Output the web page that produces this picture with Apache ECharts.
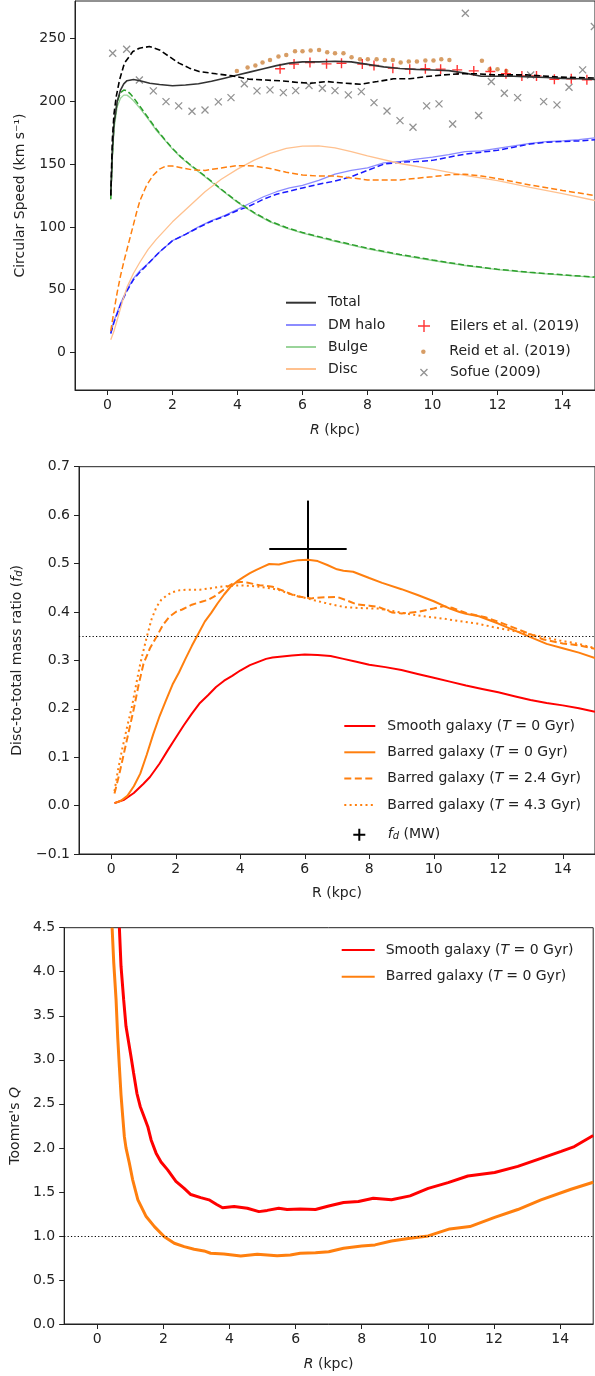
<!DOCTYPE html>
<html><head><meta charset="utf-8">
<script src="https://cdn.jsdelivr.net/npm/echarts@6/dist/echarts.min.js"></script>
<style>html,body{margin:0;padding:0;background:#fff}#c{width:595px;height:1376px}</style>
</head><body><div id="c"></div>
<script>
// ---------------- Panel 1: circular speed ----------------
const R_TOTAL_SMOOTH = [0.1,0.15,0.2,0.3,0.4,0.5,0.6,0.8,1.0,1.3,1.6,2.0,2.4,2.8,3.2,3.6,4.0,4.4,4.8,5.2,5.6,6.0,6.5,7.0,7.5,8.0,8.5,9.0,9.5,10.0,10.5,11.0,11.5,12.0,12.5,13.0,13.5,14.0,14.5,15.0];
const V_TOTAL_SMOOTH = [125,160,182,200,209,214,216.5,217.5,216.5,214.5,213.5,212.5,213,214,216,218.5,221,223.5,226,228.5,230.5,231.5,231.5,232,231.5,229.5,227.5,226.2,225.5,225,224.5,222.5,220,220,220,219.5,219,218.3,218,217.5];
const R_TOTAL_BAR = [0.1,0.15,0.2,0.27,0.37,0.52,0.78,0.98,1.29,1.6,1.9,2.2,2.52,2.82,3.34,3.85,4.36,4.87,5.38,5.9,6.25,6.76,7.28,7.79,8.3,8.8,9.3,9.8,10.35,10.86,11.37,11.9,12.9,13.9,15.0];
const V_TOTAL_BAR = [125,170,190,204,217,230.5,239.7,242.4,243.7,241,235.7,230.5,226.5,223.8,222,220.3,217.7,217,216.3,215,214.5,215.8,214.5,213.7,215.8,218,218,219.8,221.1,222,222,221.1,221.1,219.4,218.6];
const R_DM = [0.1,0.2,0.3,0.4,0.6,0.8,1.0,1.3,1.6,2.0,2.4,2.8,3.2,3.6,4.0,4.4,4.8,5.2,5.6,6.0,6.5,7.0,7.5,8.0,8.5,9.0,9.5,10.0,10.5,11.0,11.5,12.0,12.5,13.0,13.5,14.0,14.5,15.0];
const V_DM_SMOOTH = [15,25,32,39,50,59,65,72,80,89,94,100,105,109,114,119,124,128,131,133,137,142,145,147,151,152,154,155.5,157.5,160,160.5,162.5,164.5,166.5,168,168.5,169.5,171];
const V_DM_BAR = [15,24,31,38,49,58,64,72,80,89,94,99.5,104.5,108.5,113,117,122,126,128.5,131,134,136.5,140,145,150,151.5,152,153,155.5,158,159.5,161,163.5,166,167.5,168,168.5,169.5];
const R_BULGE = [0.1,0.15,0.2,0.3,0.4,0.5,0.6,0.7,0.8,1.0,1.25,1.5,1.75,2.0,2.25,2.5,2.75,3.0,3.5,4.0,4.5,5.0,5.5,6.0,7.0,8.0,9.0,10.0,11.0,12.0,13.0,14.0,15.0];
const V_BULGE_BAR = [122,158,182,200,207,209,208.5,206,203,196,187,178,170,162.5,156,150.5,145.5,140.5,130,120,111.5,104.5,99.5,95.5,89,83,78,73.6,69.5,66.2,63.8,61.8,60];
const V_BULGE_SMOOTH = [122,155,178,196,202.5,205,205,203,200.5,194.5,186,177,169.5,162,155.5,150,145,140,129.5,119.5,111,104,99,95,88.5,82.5,77.5,73.2,69.2,66,63.6,61.6,59.8];
const R_DISC_SMOOTH = [0.1,0.2,0.3,0.4,0.5,0.6,0.8,1.0,1.25,1.5,1.75,2.0,2.5,3.0,3.5,4.0,4.5,5.0,5.5,6.0,6.5,7.0,7.5,8.0,9.0,10.0,11.0,12.0,13.0,14.0,15.0];
const V_DISC_SMOOTH = [10,17,26,35,44,52,63,72,82,90,97,104,116,128,138,146,153,158.5,162.5,164.3,164.5,163,160,156.5,150.5,146,141,136.8,131.5,126.5,121];
const R_DISC_BAR = [0.1,0.2,0.3,0.4,0.5,0.6,0.7,0.8,0.9,1.0,1.2,1.4,1.6,1.8,2.0,2.3,2.6,3.0,3.5,4.0,4.5,5.0,5.5,6.0,6.5,7.0,7.5,8.0,9.0,10.0,10.5,11.0,11.5,12.0,13.0,14.0,15.0];
const V_DISC_BAR = [17,33,48,61,72,82,92,102,112,121,133,141,146,148.5,148.5,147,145.5,145,147,148.8,148.5,146.5,143.5,141.3,140.5,140.5,139,137.4,137.4,140,141.5,142,140.5,138.5,133.4,129,125];
const R_EILERS = [5.31,5.74,6.23,6.74,7.20,7.84,8.20,8.78,9.30,9.78,10.25,10.76,11.27,11.78,12.26,12.75,13.20,13.75,14.27,14.75];
const V_EILERS = [226.0,229.7,231.0,229.9,230.4,229.7,228.6,226.5,225.7,226.0,225.7,225.1,224.3,223.8,222.0,220.3,220.3,217.7,218.0,217.2];
const R_REID = [3.98,4.31,4.55,4.77,5.00,5.26,5.50,5.77,6.00,6.25,6.51,6.76,7.00,7.26,7.51,7.77,8.01,8.28,8.53,8.78,9.02,9.27,9.52,9.78,10.03,10.27,10.52,11.52,11.76,12.00,12.27];
const V_REID = [224.3,227.0,228.6,231.0,233.0,235.7,237.0,240.0,240.0,240.6,241.0,239.2,238.4,238.4,235.2,233.6,233.6,233.6,233.0,233.0,231.0,231.8,231.8,232.5,232.5,233.6,233.0,232.3,225.7,225.7,224.3];
const R_SOFUE = [0.16,0.59,0.98,1.41,1.80,2.19,2.60,3.00,3.41,3.80,4.21,4.60,5.00,5.41,5.79,6.20,6.61,7.00,7.41,7.81,8.20,8.60,9.00,9.40,9.82,10.20,10.62,11.01,11.42,11.81,12.21,12.62,13.02,13.42,13.83,14.20,14.62,14.98];
const V_SOFUE = [238.4,241.6,217.1,208.4,199.8,196.4,192.2,193.2,199.6,203.0,214.0,208.4,209.2,207.0,208.6,212.6,210.5,208.6,205.2,207.8,199.0,192.4,184.7,179.4,196.4,198.0,182.0,270.3,188.7,215.8,206.5,203.0,221.0,199.8,197.2,211.3,225.1,259.7];

// ---------------- Panel 2: disc-to-total mass ratio ----------------
const R_FD_SMOOTH = [0.1,0.4,0.7,1.0,1.2,1.5,1.75,2.0,2.25,2.5,2.75,3.0,3.25,3.5,3.75,4.0,4.3,4.6,4.8,5.0,5.3,5.6,6.0,6.4,6.8,7.2,7.6,8.0,8.5,9.0,9.5,10.0,10.5,11.0,11.5,12.0,12.5,13.0,13.5,14.0,14.5,15.0];
const F_FD_SMOOTH = [0.005,0.012,0.026,0.045,0.059,0.087,0.114,0.14,0.166,0.19,0.212,0.228,0.245,0.258,0.268,0.279,0.29,0.298,0.303,0.306,0.308,0.31,0.312,0.311,0.309,0.303,0.297,0.291,0.286,0.28,0.272,0.264,0.256,0.248,0.241,0.234,0.226,0.218,0.212,0.207,0.201,0.194];
const R_FD_BAR0 = [0.1,0.3,0.5,0.7,0.9,1.1,1.3,1.5,1.7,1.9,2.1,2.3,2.5,2.7,2.9,3.1,3.3,3.5,3.7,3.9,4.1,4.3,4.5,4.7,4.9,5.2,5.5,5.8,6.1,6.4,6.7,7.0,7.2,7.5,8.0,8.4,9.0,9.5,10.0,10.5,10.8,11.0,11.4,12.0,12.5,13.0,13.5,14.0,14.5,15.0];
const F_FD_BAR0 = [0.005,0.01,0.02,0.04,0.066,0.105,0.147,0.185,0.218,0.25,0.275,0.303,0.33,0.355,0.38,0.398,0.418,0.436,0.452,0.463,0.472,0.48,0.487,0.493,0.499,0.498,0.503,0.507,0.508,0.505,0.497,0.488,0.485,0.483,0.47,0.46,0.447,0.435,0.422,0.407,0.4,0.396,0.391,0.376,0.362,0.348,0.334,0.325,0.316,0.305];
const R_FD_BAR24 = [0.1,0.25,0.4,0.55,0.7,0.85,1.0,1.2,1.4,1.6,1.8,2.0,2.2,2.5,2.8,3.0,3.2,3.4,3.6,3.8,4.0,4.2,4.4,4.6,4.8,5.0,5.2,5.4,5.6,5.8,6.0,6.2,6.5,7.0,7.3,7.6,8.0,8.3,8.7,9.0,9.5,10.0,10.3,10.6,11.0,11.6,12.0,12.5,13.0,13.4,14.0,14.5,15.0];
const F_FD_BAR24 = [0.025,0.065,0.11,0.155,0.2,0.25,0.293,0.325,0.348,0.373,0.39,0.4,0.405,0.415,0.421,0.425,0.432,0.442,0.452,0.46,0.462,0.461,0.458,0.455,0.454,0.452,0.447,0.442,0.436,0.432,0.43,0.428,0.43,0.431,0.424,0.416,0.413,0.41,0.399,0.397,0.4,0.407,0.412,0.408,0.398,0.389,0.38,0.367,0.354,0.343,0.335,0.331,0.324];
const R_FD_BAR43 = [0.1,0.2,0.33,0.5,0.64,0.8,0.9,1.1,1.25,1.4,1.55,1.72,1.9,2.13,2.4,2.75,3.0,3.37,3.7,3.98,4.3,4.6,5.0,5.22,5.5,5.84,6.3,6.8,7.23,7.7,8.26,8.8,9.29,9.8,10.32,10.8,11.34,11.9,12.37,12.9,13.4,13.9,14.43,14.95];
const F_FD_BAR43 = [0.03,0.07,0.114,0.165,0.204,0.26,0.293,0.348,0.385,0.41,0.425,0.434,0.441,0.445,0.446,0.446,0.448,0.452,0.454,0.455,0.454,0.452,0.448,0.445,0.438,0.432,0.424,0.416,0.41,0.408,0.407,0.401,0.395,0.39,0.386,0.381,0.376,0.368,0.362,0.355,0.348,0.341,0.335,0.326];
const MW_R = [6.1], MW_F = [0.53], MW_R_ERR = [1.2], MW_F_ERR = [0.1];
const FD_REF = 0.35;

// ---------------- Panel 3: Toomre Q ----------------
const R_Q_SMOOTH = [0.67,0.72,0.8,0.87,0.95,1.02,1.1,1.2,1.3,1.42,1.53,1.63,1.78,1.93,2.13,2.38,2.63,2.83,3.13,3.38,3.6,3.79,4.14,4.54,4.89,5.14,5.49,5.74,6.14,6.6,7.0,7.45,7.9,8.35,8.9,9.46,10.01,10.61,11.21,12.02,12.72,13.42,14.03,14.43,15.0];
const Q_SMOOTH = [4.5,4.06,3.68,3.38,3.2,3.04,2.85,2.62,2.47,2.35,2.24,2.09,1.94,1.84,1.75,1.62,1.54,1.47,1.435,1.41,1.36,1.32,1.335,1.315,1.276,1.29,1.315,1.30,1.305,1.30,1.34,1.38,1.39,1.428,1.41,1.455,1.54,1.606,1.68,1.72,1.79,1.88,1.96,2.015,2.14];
const R_Q_BAR = [0.45,0.5,0.57,0.62,0.67,0.72,0.77,0.82,0.87,0.97,1.07,1.23,1.48,1.73,2.03,2.33,2.63,2.93,3.23,3.43,3.83,4.34,4.84,5.44,5.84,6.14,6.6,7.0,7.45,8.0,8.4,8.9,9.46,10.01,10.66,11.27,12.02,12.72,13.42,14.33,15.0];
const Q_BAR = [4.5,4.1,3.68,3.25,2.92,2.6,2.36,2.13,2.0,1.83,1.64,1.41,1.22,1.106,0.99,0.917,0.879,0.849,0.83,0.803,0.795,0.773,0.792,0.776,0.784,0.803,0.81,0.82,0.86,0.886,0.898,0.943,0.973,1.0,1.08,1.106,1.21,1.30,1.41,1.53,1.61];
const Q_REF = 1.0;

const X_TICKS = [0,2,4,6,8,10,12,14];
const V_TICKS = [0,50,100,150,200,250];

// ---------------- styling helpers ----------------
const FONT = 'DejaVu Sans';
const TXT = '#222';
const zip = (xs, ys) => xs.map((x, i) => [x, ys[i]]);
const RICH = {
  i: {fontFamily: FONT, fontStyle: 'italic', fontSize: 14, color: TXT},
  sub: {fontFamily: FONT, fontStyle: 'italic', fontSize: 10, color: TXT, verticalAlign: 'bottom', lineHeight: 10, padding: [6, 0, 0, 0]}
};
const PLUS = 'path://M5,0L5,10M0,5L10,5';
const CROSS = 'path://M0,0L10,10M10,0L0,10';
const LABELS = {
  s2: 'Smooth galaxy ({i|T} = 0 Gyr)', b2: 'Barred galaxy ({i|T} = 0 Gyr)',
  b24: 'Barred galaxy ({i|T} = 2.4 Gyr)', b43: 'Barred galaxy ({i|T} = 4.3 Gyr)',
  mw: '{i|f}{sub|d} (MW)',
  s3: 'Smooth galaxy ({i|T} = 0 Gyr)', b3: 'Barred galaxy ({i|T} = 0 Gyr)'
};

function line(name, idx, R, V, color, width, type, extra) {
  return Object.assign({
    type: 'line', name, xAxisIndex: idx, yAxisIndex: idx, data: zip(R, V),
    symbol: 'none', showSymbol: false, clip: true, silent: true,
    lineStyle: {color, width, type: type || 'solid'}, itemStyle: {color},
    emphasis: {disabled: true}
  }, extra || {});
}
// legend entry: left = left edge of the handle, cy = row centre
function leg(item, left, cy, w, h, pad) {
  return {
    show: true, data: [item], orient: 'vertical', left, top: cy - h / 2,
    itemWidth: w, itemHeight: h, padding: 0, itemGap: 0, selectedMode: false,
    formatter: n => LABELS[n] || n,
    textStyle: {fontFamily: FONT, fontSize: 14, color: TXT, padding: [0, 0, 0, pad], rich: RICH}
  };
}
const lineItem = name => ({name, itemStyle: {opacity: 0}});
function xAx(idx, nameStr, gap) {
  return {
    type: 'value', gridIndex: idx, min: -1, max: 15,
    name: nameStr, nameLocation: 'middle', nameGap: gap,
    nameTextStyle: {fontFamily: FONT, fontSize: 14, color: TXT, rich: RICH},
    axisLine: {show: true, onZero: false, lineStyle: {color: TXT, width: 1}},
    axisTick: {show: true, length: 5, customValues: X_TICKS, lineStyle: {color: TXT, width: 1}},
    axisLabel: {customValues: X_TICKS, fontFamily: FONT, fontSize: 14, color: TXT, margin: 8},
    splitLine: {show: false}
  };
}
function yAx(idx, cfg, nameStr, gap) {
  return Object.assign({
    type: 'value', gridIndex: idx,
    name: nameStr, nameLocation: 'middle', nameRotate: 90, nameGap: gap,
    nameTextStyle: {fontFamily: FONT, fontSize: 14, color: TXT, rich: RICH},
    axisLine: {show: true, onZero: false, lineStyle: {color: TXT, width: 1}},
    axisTick: {show: true, length: 5, lineStyle: {color: TXT, width: 1}},
    axisLabel: {fontFamily: FONT, fontSize: 14, color: TXT, margin: 9},
    splitLine: {show: false}
  }, cfg);
}
const fmt1 = v => (v < 0 ? '\u2212' : '') + Math.abs(v).toFixed(1);
const gridBox = {show: true, borderColor: TXT, borderWidth: 1, backgroundColor: 'transparent'};

const chart = echarts.init(document.getElementById('c'), null, {renderer: 'canvas'});
const option = {
  animation: false,
  backgroundColor: '#fff',
  grid: [
    Object.assign({left: 75, top: 1, width: 521, height: 389}, gridBox),
    Object.assign({left: 78.5, top: 466.7, width: 518, height: 387.3}, gridBox),
    Object.assign({left: 62.7, top: 927.7, width: 530.5, height: 396.3}, gridBox)
  ],
  xAxis: [xAx(0, '{i|R} (kpc)', 33), xAx(1, 'R (kpc)', 32), xAx(2, '{i|R} (kpc)', 33)],
  yAxis: [
    yAx(0, {min: -30, max: 280, axisTick: {show: true, length: 5, customValues: V_TICKS, lineStyle: {color: TXT}},
            axisLabel: {customValues: V_TICKS, fontFamily: FONT, fontSize: 14, color: TXT, margin: 9}},
        'Circular Speed (km s\u207B\u00B9)', 48),
    yAx(1, {min: -0.1, max: 0.7, interval: 0.1,
            axisLabel: {fontFamily: FONT, fontSize: 14, color: TXT, margin: 9, formatter: fmt1}},
        'Disc-to-total mass ratio ({i|f}{sub|d})', 55),
    yAx(2, {min: 0, max: 4.5, interval: 0.5,
            axisLabel: {fontFamily: FONT, fontSize: 14, color: TXT, margin: 9, formatter: fmt1}},
        "Toomre's {i|Q}", 41)
  ],
  legend: [
    leg(lineItem('Total'), 285, 302.7, 30, 14, 7),
    leg(lineItem('DM halo'), 285, 325, 30, 14, 7),
    leg(lineItem('Bulge'), 285, 347, 30, 14, 7),
    leg(lineItem('Disc'), 285, 369, 30, 14, 7),
    leg({name: 'Eilers et al. (2019)', icon: PLUS, itemStyle: {color: 'rgba(0,0,0,0)', borderColor: '#ff0000', borderWidth: 1.4}}, 417.3, 325, 12, 12, 15),
    leg({name: 'Reid et al. (2019)', icon: 'circle', itemStyle: {color: '#cd853f', borderWidth: 0}}, 421.1, 347, 4.5, 4.5, 18.7),
    leg({name: 'Sofue (2009)', icon: CROSS, itemStyle: {color: 'rgba(0,0,0,0)', borderColor: '#777777', borderWidth: 1.3}}, 419.8, 369, 7, 7, 17.5),
    leg(lineItem('s2'), 343.3, 726, 31, 14, 7),
    leg(lineItem('b2'), 343.3, 752.3, 31, 14, 7),
    leg(lineItem('b24'), 343.3, 778.5, 31, 14, 7),
    leg(lineItem('b43'), 343.3, 805, 31, 14, 7),
    leg({name: 'mw', icon: PLUS, itemStyle: {color: 'rgba(0,0,0,0)', borderColor: '#000', borderWidth: 2}}, 352.3, 831.7, 12, 12, 17.4),
    leg(lineItem('s3'), 340.7, 950, 33, 14, 6),
    leg(lineItem('b3'), 340.7, 976.7, 33, 14, 6)
  ],
  series: [
    // panel 1
    line('DM halo', 0, R_DM, V_DM_SMOOTH, '#8c8cff', 1.3),
    line('dm_bar', 0, R_DM, V_DM_BAR, '#1a1aff', 1.5, [6, 3]),
    line('Bulge', 0, R_BULGE, V_BULGE_SMOOTH, '#9ad49a', 1.3),
    line('bulge_bar', 0, R_BULGE, V_BULGE_BAR, '#2ca02c', 1.5, [6, 3]),
    line('Disc', 0, R_DISC_SMOOTH, V_DISC_SMOOTH, '#ffc18f', 1.3),
    line('disc_bar', 0, R_DISC_BAR, V_DISC_BAR, '#ff7f0e', 1.5, [6, 3]),
    line('Total', 0, R_TOTAL_SMOOTH, V_TOTAL_SMOOTH, '#333333', 1.6),
    line('total_bar', 0, R_TOTAL_BAR, V_TOTAL_BAR, '#000000', 1.6, [6, 3]),
    {type: 'scatter', name: 'Sofue (2009)', xAxisIndex: 0, yAxisIndex: 0, data: zip(R_SOFUE, V_SOFUE),
     symbol: CROSS, symbolSize: 7, silent: true, itemStyle: {color: 'rgba(0,0,0,0)', borderColor: '#777777', borderWidth: 1.3}},
    {type: 'scatter', name: 'Reid et al. (2019)', xAxisIndex: 0, yAxisIndex: 0, data: zip(R_REID, V_REID),
     symbol: 'circle', symbolSize: 4.5, silent: true, itemStyle: {color: '#cd853f'}},
    {type: 'scatter', name: 'Eilers et al. (2019)', xAxisIndex: 0, yAxisIndex: 0, data: zip(R_EILERS, V_EILERS),
     symbol: PLUS, symbolSize: 10, silent: true, itemStyle: {color: 'rgba(0,0,0,0)', borderColor: '#ff0000', borderWidth: 1.4}},
    // panel 2
    line('s2', 1, R_FD_SMOOTH, F_FD_SMOOTH, '#ff0000', 2, 'solid', {
      markLine: {silent: true, symbol: ['none', 'none'], label: {show: false},
        lineStyle: {color: '#000', width: 1, type: [1.2, 2.2]}, data: [{yAxis: FD_REF}]}}),
    line('b2', 1, R_FD_BAR0, F_FD_BAR0, '#ff7f0e', 2),
    line('b24', 1, R_FD_BAR24, F_FD_BAR24, '#ff7f0e', 2, [7, 3.5]),
    line('b43', 1, R_FD_BAR43, F_FD_BAR43, '#ff7f0e', 2, [2, 3.3]),
    {type: 'custom', name: 'mw', xAxisIndex: 1, yAxisIndex: 1, silent: true,
     data: MW_R.map((r, i) => [r, MW_F[i], MW_R_ERR[i], MW_F_ERR[i]]),
     encode: {x: 0, y: 1},
     itemStyle: {color: '#000'},
     renderItem: (params, api) => {
       const x = api.value(0), y = api.value(1), xe = api.value(2), ye = api.value(3);
       const a = api.coord([x - xe, y]), b = api.coord([x + xe, y]);
       const c = api.coord([x, y - ye]), d = api.coord([x, y + ye]);
       const st = {stroke: '#000', lineWidth: 2};
       return {type: 'group', children: [
         {type: 'line', shape: {x1: a[0], y1: a[1], x2: b[0], y2: b[1]}, style: st},
         {type: 'line', shape: {x1: c[0], y1: c[1], x2: d[0], y2: d[1]}, style: st}
       ]};
     }},
    // panel 3
    line('s3', 2, R_Q_SMOOTH, Q_SMOOTH, '#ff0000', 3, 'solid', {
      markLine: {silent: true, symbol: ['none', 'none'], label: {show: false},
        lineStyle: {color: '#000', width: 1, type: [1.2, 2.2]}, data: [{yAxis: Q_REF}]}}),
    line('b3', 2, R_Q_BAR, Q_BAR, '#ff7f0e', 3)
  ]
};
chart.setOption(option);
</script></body></html>
